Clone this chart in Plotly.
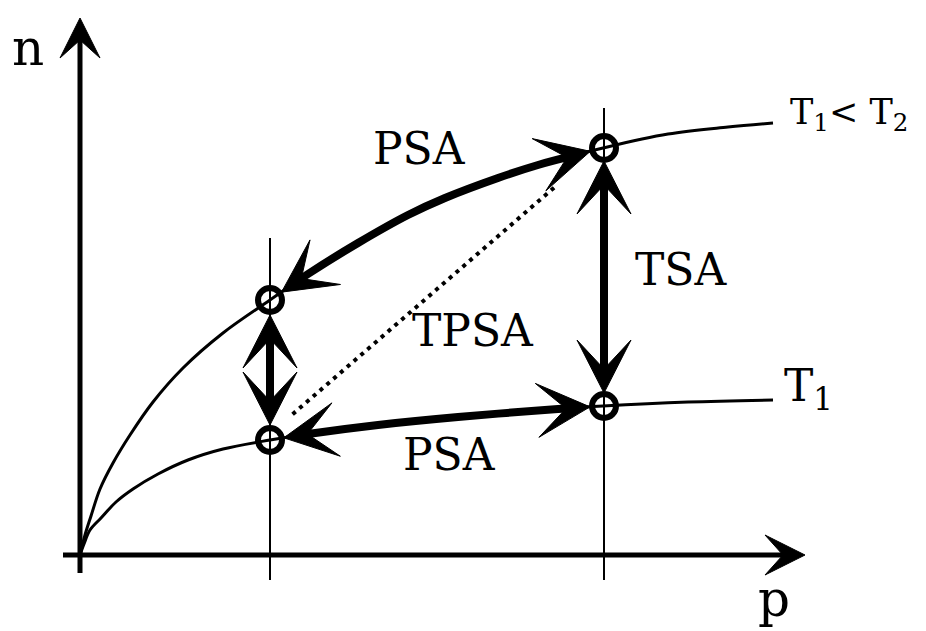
import numpy as np
import plotly.graph_objects as go

# sketch coordinates: x = pressure p, y = loading n (pixel rows, downward)
upper_p = [72, 77, 83, 92, 105, 122, 145, 175, 215, 262, 300, 350, 400, 437, 490, 530, 595, 660, 720, 765]
upper_n = [547, 527, 508, 481, 455, 427, 394, 360, 325, 292, 266, 235, 207, 190, 170, 157, 140, 126, 119, 115]
lower_p = [72, 76, 82, 93, 108, 125, 150, 180, 215, 262, 300, 370, 450, 550, 595, 680, 765]
lower_n = [547, 536, 522, 510, 494, 481, 466, 452, 441, 432, 426, 417, 409, 401, 398, 394, 392]

# operating states (low / high pressure)
state_p = [262, 596]
state_n_low = [432, 398]
state_n_high = [292, 140]

origin = (72, 547)
p_axis_end = 797
n_axis_end = 10

labels = ["n", "p", "PSA", "PSA", "TSA", "TPSA", "T<sub>1</sub>", "T<sub>1</sub>&lt; T<sub>2</sub>"]
label_x = [20, 766, 411, 441, 673, 465, 774, 780]
label_y = [40, 591, 140, 446, 261, 322, 380, 106]
label_size = [50, 50, 44, 44, 44, 44, 44, 35]
label_anchor = ["center", "center", "center", "center", "center", "center", "left", "left"]

FONT = "DejaVu Serif"


def slope(px, py, x0):
    return (np.interp(x0 + 1, px, py) - np.interp(x0 - 1, px, py)) / 2


def head(tip, d, length=53, half=27, notch=24):
    d = np.asarray(d, float)
    d = d / np.hypot(*d)
    n = np.array([-d[1], d[0]])
    t = np.asarray(tip, float)
    back = t - length * d
    pts = [t, back + half * n, t - notch * d, back - half * n, t]
    return [p[0] for p in pts] + [None], [p[1] for p in pts] + [None]


def curve_arrow(px, py, x_a, x_b, gap=14):
    # double headed thick arrow running along a curve between x_a and x_b
    s_a, s_b = slope(px, py, x_a), slope(px, py, x_b)
    xa = x_a + gap / np.hypot(1, s_a)
    xb = x_b - gap / np.hypot(1, s_b)
    ta = (xa, np.interp(xa, px, py))
    tb = (xb, np.interp(xb, px, py))
    da = (-1, -slope(px, py, xa))
    db = (1, slope(px, py, xb))
    inner = [(x, y) for x, y in zip(px, py) if xa + 12 < x < xb - 12]
    sx = [xa + 12] + [q[0] for q in inner] + [xb - 12]
    sy = [np.interp(xa + 12, px, py)] + [q[1] for q in inner] + [np.interp(xb - 12, px, py)]
    return (sx, sy), [(ta, da), (tb, db)]


fig = go.Figure()

# thin guide lines at the two pressures
for p in state_p:
    top = 230 if p == state_p[0] else 100
    fig.add_trace(go.Scatter(x=[p, p], y=[top, 572], mode="lines",
                             line=dict(color="black", width=2), hoverinfo="skip"))

# isotherms
for px, py in [(upper_p, upper_n), (lower_p, lower_n)]:
    fig.add_trace(go.Scatter(x=px, y=py, mode="lines", line=dict(color="black", width=3, shape="spline"),
                             hoverinfo="skip"))

heads_x, heads_y = [], []

# axes
fig.add_trace(go.Scatter(x=[55, p_axis_end - 20], y=[origin[1], origin[1]], mode="lines",
                         line=dict(color="black", width=5), hoverinfo="skip"))
fig.add_trace(go.Scatter(x=[origin[0], origin[0]], y=[565, n_axis_end + 20], mode="lines",
                         line=dict(color="black", width=5), hoverinfo="skip"))
hx, hy = head((p_axis_end, origin[1]), (1, 0), 40, 20, 22)
heads_x += hx; heads_y += hy
hx, hy = head((origin[0], n_axis_end), (0, -1), 40, 20, 22)
heads_x += hx; heads_y += hy

# PSA arrows along the isotherms
for px, py in [(upper_p, upper_n), (lower_p, lower_n)]:
    (sx, sy), tips = curve_arrow(px, py, state_p[0], state_p[1])
    fig.add_trace(go.Scatter(x=sx, y=sy, mode="lines", line=dict(color="black", width=8, shape="spline"),
                             hoverinfo="skip"))
    for t, d in tips:
        hx, hy = head(t, d)
        heads_x += hx; heads_y += hy

# TSA vertical arrow and the small one at low pressure
for p, hi, lo, gap in [(state_p[1], state_n_high[1], state_n_low[1], 13),
                       (state_p[0], state_n_high[0], state_n_low[0], 15)]:
    fig.add_trace(go.Scatter(x=[p, p], y=[hi + gap + 12, lo - gap - 12], mode="lines",
                             line=dict(color="black", width=8), hoverinfo="skip"))
    hx, hy = head((p, hi + gap), (0, -1))
    heads_x += hx; heads_y += hy
    hx, hy = head((p, lo - gap), (0, 1))
    heads_x += hx; heads_y += hy

# TPSA dotted diagonal
a = np.array([state_p[0], state_n_low[0]], float)
b = np.array([state_p[1], state_n_high[1]], float)
u = (b - a) / np.hypot(*(b - a))
s0, s1 = a + 30 * u, b - 65 * u
fig.add_trace(go.Scatter(x=[s0[0], s1[0]], y=[s0[1] - 6, s1[1] - 4], mode="lines",
                         line=dict(color="black", width=4, dash="4px,5px"), hoverinfo="skip"))

fig.add_trace(go.Scatter(x=heads_x, y=heads_y, mode="lines", fill="toself", fillcolor="black",
                         line=dict(color="black", width=1), hoverinfo="skip"))

# state circles
fig.add_trace(go.Scatter(x=state_p + state_p, y=state_n_low + state_n_high, mode="markers",
                         marker=dict(symbol="circle", size=24, color="rgba(0,0,0,0)",
                                     line=dict(color="black", width=6)),
                         hoverinfo="skip"))

for txt, x, y, size, anc in zip(labels, label_x, label_y, label_size, label_anchor):
    fig.add_annotation(x=x, y=y, text=txt, showarrow=False, xanchor=anc, yanchor="middle",
                       font=dict(family=FONT, size=size, color="black"))

fig.update_layout(
    width=926,
    height=631,
    margin=dict(l=0, r=0, t=0, b=0),
    paper_bgcolor="white",
    plot_bgcolor="white",
    showlegend=False,
    font=dict(family=FONT, color="black"),
    xaxis=dict(range=[0, 926], visible=False, fixedrange=True),
    yaxis=dict(range=[631, 0], visible=False, fixedrange=True),
)

fig.write_html("out.html")
